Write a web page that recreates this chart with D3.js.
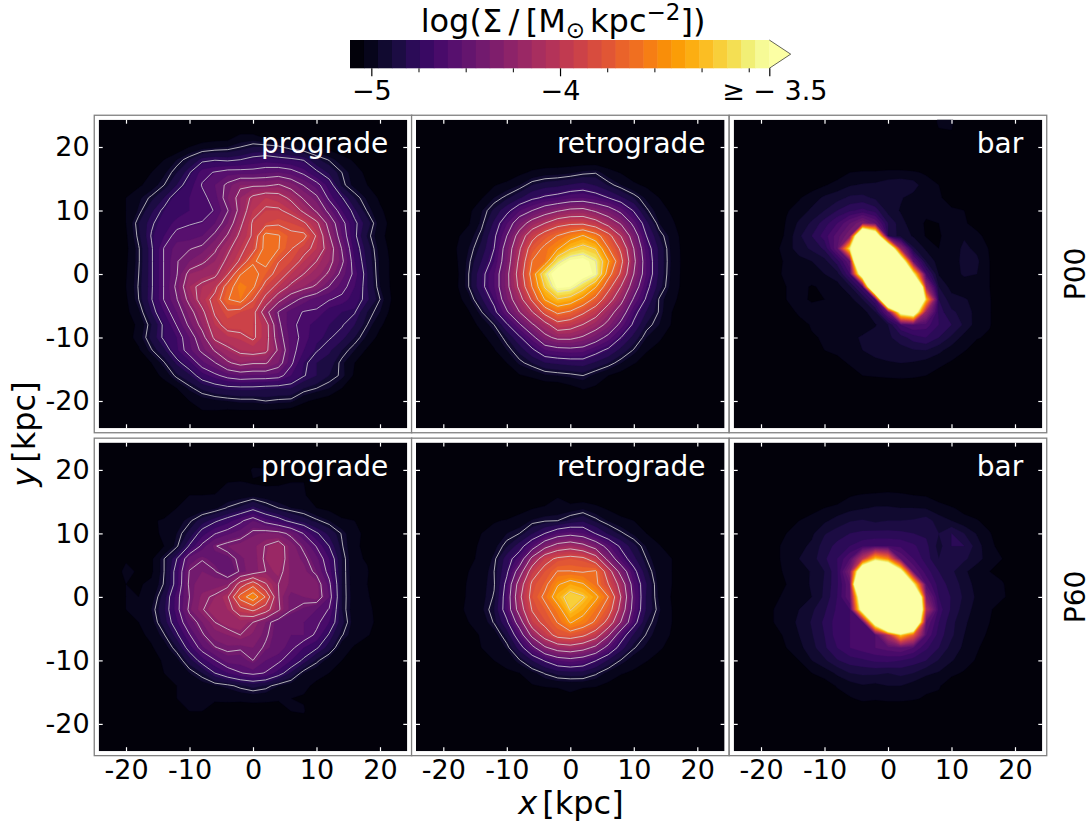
<!DOCTYPE html>
<html>
<head>
<meta charset="utf-8">
<script src="https://cdn.jsdelivr.net/npm/d3@7"></script>
<style>
  html, body { margin: 0; background: white; }
  text { font-family: "DejaVu Sans", sans-serif; }
</style>
</head>
<body>
<div class="container"></div>
<script>
// grid nodes in kpc, grids are in colorbar steps (0 = darkest, 30+ = over colour)
const gridNodes = [-24,-22,-20,-18,-16,-14,-12,-10,-8,-6,-4,-2,0,2,4,6,8,10,12,14,16,18,20,22,24];

const proP00 = [
[0,0,0,0,0,0,0,0,0,0,0,0,0,0,0,0,0,0,0,0,0,0,0,0,0],
[0,0,0,0,0,0,0,0,0,0,0,1,1,0,0,0,0,0,0,0,0,0,0,0,0],
[0,0,0,0,0,0,0,1,1.5,1.8,2,2.5,3,3,2.7,2,1.5,1,.5,0,0,0,0,0,0],
[0,0,0,0,.5,1,2,3,4.3,4.6,4.4,4.7,5.2,5.5,5.2,5,4.6,3.2,2.4,1.5,.8,0,0,0,0],
[0,0,0,.5,1,1.8,3,4.6,6.5,7,7.5,7.5,7.5,7.8,8,7.5,6.5,5,3.8,2.5,1.5,.7,0,0,0],
[0,0,.3,.8,1.5,2.5,4,5.5,7,8,9.5,11,11,11,11.5,10.5,9,7.5,5.5,2.8,1.7,1,.3,0,0],
[0,.5,1,1.8,2.7,4,5.5,6,6.5,7.5,10,12,14,15,14.5,13,11,9.5,6.5,4.8,3,1.8,.8,.2,0],
[0,.4,1,2.1,3.8,5,5.5,6,6.3,7,9,12,15,16,16,15,13,11,8.5,6,4.2,2.4,1.2,.4,0],
[0,.3,1,3,4.5,5.5,6.3,6.8,7,8,10,13,16,17,17.5,17,16,14,10.5,7.5,5,3.5,1.5,.6,0],
[0,.2,.8,2.8,4.8,6,7.5,7.5,8,9.5,11.5,14,16,21,20.3,18.5,18.5,15.5,11.5,8,5,2.9,1.3,.5,0],
[0,.2,.7,2.4,4.5,7,8.5,9,9.5,11,13,15,17,21,20.2,18,16.5,15,12.5,9,5.5,3.5,1.6,.6,0],
[0,.2,.8,2.4,4.5,7,9,10,11,12,14,16,19.8,21,18,17,15,13.5,12,9.5,6,3.7,1.8,.7,0],
[0,.3,.9,2.5,4.5,7,9,12,12.5,13,15.5,20,21,19,17,15,13.5,12.5,11,8.5,6.5,4,1.8,.7,0],
[0,.3,1,2.6,4.5,7,9.5,13,14,15,19,21.5,20.5,17,15,13,12,11,9,7.5,6,4,2,.7,0],
[0,.2,.8,2.5,4.6,7,9,12,14.5,16.5,20,21,18,15,12,10,8.5,7.5,7,6.5,5.5,4.2,2.5,.8,0],
[0,0,.7,1.8,4,6,8,10.5,13,16,17.5,17,16.5,12,9,7.5,6.8,6.7,5.5,5,4.8,3,2,.5,0],
[0,0,.5,1.2,3,5,7,9.5,12,15,16.5,16.5,16,14.5,9.5,7.2,6.5,5.5,5,4.8,4,2.5,1.2,.3,0],
[0,0,.4,1.5,3.3,5,6,8,10.5,14,14.8,15.2,16,14.5,10,7.5,6.5,5.2,4.8,4.3,3,1.8,.6,0,0],
[0,0,.2,.8,2.4,3.8,5.8,7.7,9.5,11.5,13,14,14.5,14,11,7.5,6,4.8,4.2,3,2,.8,.2,0,0],
[0,0,0,.3,1,2.4,4.2,5.7,7.7,9,11,12,11.5,11.5,10,7.2,5,4,3.5,2.2,1,.3,0,0,0],
[0,0,0,0,.5,1.3,2.8,3.8,5.5,6.5,7.5,8,7.8,7.8,7.5,6,4.8,4,3,2.3,.8,0,0,0,0],
[0,0,0,0,0,.4,1,2.2,3.2,3.8,4.2,4.3,4.3,4.1,4,4,3,2.5,2,1,.3,0,0,0,0],
[0,0,0,0,0,0,.3,1,1.5,1.8,2,2.2,2.2,2.5,2.3,2.2,1.2,.7,.3,0,0,0,0,0,0],
[0,0,0,0,0,0,0,.2,.8,.7,.5,.5,.5,.4,.3,0,0,0,0,0,0,0,0,0,0],
[0,0,0,0,0,0,0,0,0,0,0,0,0,0,0,0,0,0,0,0,0,0,0,0,0]
];

const retroP00 = [
[0,0,0,0,0,0,0,0,0,0,0,0,0,0,0,0,0,0,0,0,0,0,0,0,0],
[0,0,0,0,0,0,0,0,0,0,0,0,0,0,0,0,0,0,0,0,0,0,0,0,0],
[0,0,0,0,0,0,0,0,0,0,0,0,0,0,0,0,0,0,0,0,0,0,0,0,0],
[0,0,0,0,0,0,0,0,0,0,0,0,0,0,0,0,0,0,0,0,0,0,0,0,0],
[0,0,0,0,0,0,0,0,.7,1.2,1.5,1.6,1.8,2.2,2.4,1.4,.9,.4,0,0,0,0,0,0,0],
[0,0,0,0,0,.5,.9,1.4,2,3,3.5,3.7,4.1,4.4,3.9,2.9,2,1.2,.8,.3,0,0,0,0,0],
[0,0,0,0,.3,.9,2,2.8,3.8,5,5.7,6.1,6.7,6.9,6.3,5.4,4.2,3,1.8,1,.3,0,0,0,0],
[0,0,0,.2,.7,1.9,3.2,4.8,6.9,8.3,9.8,10.9,11.8,12,10.8,9.5,7.6,5.2,2.7,1.5,.8,.2,0,0,0],
[0,0,0,.4,.9,2.2,4.2,6.9,9.8,12.4,14.1,15.9,16.5,16.5,15.3,13,10.9,7.6,4.3,2,1.2,.3,0,0,0],
[0,0,0,.8,1.5,2.8,5,8.3,12.4,16,18.5,20,21.5,23,21,18,14,9.8,5.4,3,1.6,.5,0,0,0],
[0,0,0,.95,2,3.3,5.4,9.5,13.8,18.5,20.5,22.5,25.5,26.8,25.5,20,16.5,11.2,6.4,3.7,1.7,.6,0,0,0],
[0,0,0,.8,2.3,4,6,9.8,14.7,20,21,27.8,30.5,31,28.8,23,17.7,11.8,6.9,3.7,1.8,.6,0,0,0],
[0,0,0,.6,2.5,4.8,6.9,10.5,15.3,21,28,32,32,31.5,29.5,21,16.5,11.2,6.9,3.7,1.7,.6,0,0,0],
[0,0,0,.7,2.5,4.9,6.9,10.5,14.7,20,26,30.5,30,27,23,18,14,9.8,6,3.4,1.6,.6,0,0,0],
[0,0,0,.5,1.6,3.8,6,9.8,13,17.5,23,25.5,24.5,22,19,15.3,12,8,5.1,2.4,1.3,.5,0,0,0],
[0,0,0,0,.9,2.4,4.8,8,11.2,14,18,20.5,19.5,17.5,15.3,12.4,9.8,6.1,3.9,2.4,1,.3,0,0,0],
[0,0,0,0,.5,1.3,2.5,5.1,8,10.9,13,15.9,15.3,14,12.4,10.5,7.6,5,2.9,2,.9,.2,0,0,0],
[0,0,0,0,0,.7,1.5,3,5.1,7.6,10.5,11.8,11.8,10.9,9.5,7.6,5.4,3.6,2,1.2,.4,0,0,0,0],
[0,0,0,0,0,0,.9,2,3.3,5,6.9,7.4,7.6,7.4,6.1,5,3.6,2.4,1.1,.6,0,0,0,0,0],
[0,0,0,0,0,0,.3,1,2.2,3,3.9,4.2,4.4,4.5,3.8,3,2,1.1,.5,0,0,0,0,0,0],
[0,0,0,0,0,0,0,.4,.9,1.2,1.8,2,2.2,2.5,1.7,1,.5,0,0,0,0,0,0,0,0],
[0,0,0,0,0,0,0,0,0,0,0,0,.6,1.1,.8,0,0,0,0,0,0,0,0,0,0],
[0,0,0,0,0,0,0,0,0,0,0,0,0,0,0,0,0,0,0,0,0,0,0,0,0],
[0,0,0,0,0,0,0,0,0,0,0,0,0,0,0,0,0,0,0,0,0,0,0,0,0],
[0,0,0,0,0,0,0,0,0,0,0,0,0,0,0,0,0,0,0,0,0,0,0,0,0]
];

const barP00 = [
[0,0,0,0,0,0,0,0,0,0,0,0,0,0,0,0,1.2,1.2,0,0,0,0,0,0,0],
[0,0,0,0,0,0,0,0,0,0,0,0,0,0,0,0,.8,.9,0,0,0,0,0,0,0],
[0,0,0,0,0,0,0,0,0,0,0,0,0,0,0,0,0,0,0,0,0,0,0,0,0],
[0,0,0,0,0,0,0,0,0,0,0,0,0,0,0,0,0,0,0,0,0,0,0,0,0],
[0,0,0,0,0,0,0,0,.4,1,1.1,1.1,1.2,1.2,1.1,.9,0,0,0,0,0,0,0,0,0],
[0,0,0,0,0,.2,.5,.9,1.4,1.9,2.1,2.2,2.6,2.8,2.5,1.3,1,.5,0,0,0,0,0,0,0],
[0,0,0,0,.4,.9,1.5,2.2,2.6,3.2,3.3,2.8,2.4,2.1,1.6,1.2,1.1,.7,.2,0,0,0,0,0,0],
[0,0,0,0,.9,1.4,2.2,3,4,4.8,5.3,4.5,2.6,1.9,1.5,1.2,1.1,1.1,1,.3,0,0,0,0,0],
[0,0,0,0,1.1,2.2,3.2,4.5,6,8,10,8,4,2.4,1.4,.9,1,1.2,1.1,.7,.1,0,0,0,0],
[0,0,0,.3,1.2,2.8,4,5.5,7.5,10,54,41,4,2.5,1.9,.9,.9,1.4,1.9,1.2,.7,0,0,0,0],
[0,0,0,.6,1.5,2.5,3.2,4.2,8,28.7,45,50,45,12,3.2,1.8,1,1.5,2.2,1.8,.9,0,0,0,0],
[0,0,0,.5,1.2,1.6,2,2.6,4.5,8,72,60,60,39.5,8,3,1.5,1.5,2.3,2.2,1,0,0,0,0],
[0,0,0,.7,1.2,1.6,1.6,2,2.6,6,38.4,70,70,60,30,6,1.9,1.4,2.2,2,1,0,0,0,0],
[0,0,0,0,1,1.3,.9,1.2,1.6,2.8,6,59,70,70,70,12,3,1.6,1.3,1.5,1,0,0,0,0],
[0,0,0,0,1,1.2,.9,1,1.2,1.6,3,6,63,70,60,26,4,2.4,2.1,1.7,1.1,0,0,0,0],
[0,0,0,0,.5,1.2,1.3,1,1,1.1,1.5,3,8,33,38,12,4.5,3.2,2.6,1.6,1.1,0,0,0,0],
[0,0,0,0,0,.6,1.1,1.1,1,1,1.2,1.9,3,6,7,6.5,5,4,2.8,1.5,1.1,0,0,0,0],
[0,0,0,0,0,0,.9,1.1,1.1,1.6,2.2,2.5,2.8,3.5,4.5,5,4,2.8,1.6,1.1,.8,0,0,0,0],
[0,0,0,0,0,0,.7,1,1.2,1.8,2,2.4,2.6,2.6,2.9,3,2.3,1.5,1.1,.4,0,0,0,0,0],
[0,0,0,0,0,0,0,0,.7,1.1,1.4,1.7,1.9,2,1.9,1.6,1.2,.9,.2,0,0,0,0,0,0],
[0,0,0,0,0,0,0,0,0,.6,1,1.1,1.2,1.2,1.2,1,.7,0,0,0,0,0,0,0,0],
[0,0,0,0,0,0,0,0,0,0,0,0,0,.3,0,0,0,0,0,0,0,0,0,0,0],
[0,0,0,0,0,0,0,0,0,0,0,0,0,0,0,0,0,0,0,0,0,0,0,0,0],
[0,0,0,0,0,0,0,0,0,0,0,0,0,0,0,0,0,0,0,0,0,0,0,0,0],
[0,0,0,0,0,0,0,0,0,0,0,0,0,0,0,0,0,0,0,0,0,0,0,0,0]
];

const proP60 = [
[0,0,0,0,0,0,0,0,0,0,0,0,0,0,0,0,0,0,0,0,0,0,0,0,0],
[0,0,0,0,0,0,0,0,0,0,0,0,0,0,0,0,0,0,0,0,0,0,0,0,0],
[0,0,0,0,0,0,0,0,0,0,0,0,1.2,1.1,0,0,0,0,0,0,0,0,0,0,0],
[0,0,0,0,0,0,0,0,0,0,1,1.1,.9,.8,.9,1,1,0,0,0,0,0,0,0,0],
[0,0,0,0,0,0,.6,1,1,1.1,1.3,1.5,1.7,1.5,1.3,1.2,1.1,.5,0,0,0,0,0,0,0],
[0,0,0,0,.2,.5,1,1.2,1.4,1.8,2.6,3.2,4.3,3.2,2.5,2,1.7,1,.7,.3,0,0,0,0,0],
[0,0,0,.2,.9,1.1,1.6,2.3,3.5,4.5,5.5,6.8,8,6.5,5.5,4.3,3.5,2.7,2,1.2,1,.2,0,0,0],
[0,0,0,.2,.7,1.2,2,3.3,5.5,7,7.8,8.5,9.8,10.2,10,9,7,5,3.7,2.4,1.2,.8,0,0,0],
[0,0,0,.1,.5,1,2.3,5,7.5,9.3,10,10.5,10.7,11.8,12.8,10.5,9,7,4.8,2.6,1.2,.7,0,0,0],
[0,.2,.9,1,.8,2.5,4.8,8.5,9.3,8.5,8.7,9.8,10.5,12,13,10.5,9.8,8.3,6,3,1.2,.9,0,0,0],
[0,.6,1.2,.9,.8,2.5,5.5,9.5,10,9.5,8,9.6,10.5,11.7,12.2,10.8,10.3,9,6.5,3,1.3,1.1,0,0,0],
[0,.2,1,.9,1.2,2.6,5.5,9.8,10.3,10.5,11,15,17.7,14.2,11.7,10.8,10.8,10.4,7.5,3,1.4,1,.3,0,0],
[0,.2,1,1,1.5,3.5,6.5,9.4,11.3,12,13.7,19.5,22.5,18.4,11.8,9.5,10,10.5,8,3,1.5,1.1,.5,0,0],
[0,.1,1,1,2,3.8,6.5,9.8,11.6,12.5,13,15.5,16.8,15,12,9.5,8.8,8,7,3,1.4,1.2,.7,0,0],
[0,0,.8,1,1.6,3.5,5.8,8.5,10,11.7,12.5,12.5,11.7,10,8.5,8,8,7.5,6,3.3,1.5,1.2,.8,0,0],
[0,0,.4,.8,1.2,2.4,4.5,7,9.2,10.5,11,11.7,10.8,9.6,8.5,8,8,6.8,4.6,2.6,1.4,1.1,.5,0,0],
[0,0,0,.3,.9,1.5,3,5.5,7.8,9.3,9.8,9.6,10,9.2,8.5,7.5,6,5,3.5,1.4,.9,.2,0,0,0],
[0,0,0,0,.7,1.1,1.7,3.5,5.5,7,8.5,8.5,9.4,8,7.5,6,4.5,2.8,1.5,1,.3,0,0,0,0],
[0,0,0,0,0,1,1.2,2,3,4.8,6,7,7.5,7,5.5,3.8,2,1.3,1,.2,0,0,0,0,0],
[0,0,0,0,0,.9,1,1,1.5,1.9,2.2,2.8,3.3,2.9,2,1.5,1.2,.8,0,0,0,0,0,0,0],
[0,0,0,0,0,.8,1,1,1.1,1.1,1.2,1.2,1.3,1.2,1.1,1,.9,0,0,0,0,0,0,0,0],
[0,0,0,0,0,.4,.9,1,1,.7,.5,.4,.4,.5,.6,1,1.1,0,0,0,0,0,0,0,0],
[0,0,0,0,0,0,0,0,0,0,0,0,0,0,0,.9,.5,0,0,0,0,0,0,0,0],
[0,0,0,0,0,0,0,0,0,0,0,0,0,0,0,0,0,0,0,0,0,0,0,0,0],
[0,0,0,0,0,0,0,0,0,0,0,0,0,0,0,0,0,0,0,0,0,0,0,0,0]
];

const retroP60 = [
[0,0,0,0,0,0,0,0,0,0,0,0,0,0,0,0,0,0,0,0,0,0,0,0,0],
[0,0,0,0,0,0,0,0,0,0,0,0,0,0,0,0,0,0,0,0,0,0,0,0,0],
[0,0,0,0,0,0,0,0,0,0,0,0,0,0,0,0,0,0,0,0,0,0,0,0,0],
[0,0,0,0,0,0,0,0,0,0,0,0,0,0,0,0,0,0,0,0,0,0,0,0,0],
[0,0,0,0,0,0,0,0,0,0,0,.9,0,0,0,0,0,0,0,0,0,0,0,0,0],
[0,0,0,0,0,0,0,0,.6,.9,1.2,1.4,1.5,1.8,1.3,.8,.4,0,0,0,0,0,0,0,0],
[0,0,0,0,0,.1,.9,1.1,1.4,2.1,2.4,2.5,3.2,3.7,2.8,1.9,1.3,1,.7,0,0,0,0,0,0],
[0,0,0,0,.6,1,1.4,2,2.5,3.9,5.4,6.9,7.5,7,5.3,3.8,2.7,1.8,1,.4,0,0,0,0,0],
[0,0,0,0,.8,1.1,1.7,2.9,4.6,7,10.3,12.3,13,12,10,7.3,5,3.3,1.9,1.1,.3,0,0,0,0],
[0,0,0,0,.9,1.1,2.2,4.6,6.5,12,16,17.5,18,17.6,15.5,10.2,6.5,4.3,2.5,1.2,1,0,0,0,0],
[0,0,0,.3,1,1.4,2.5,5,9.7,15.7,18,20,20,19.7,20.2,15.5,10,6,3.2,1.5,1,.2,0,0,0],
[0,0,0,.6,1.1,1.7,2.4,6,12.6,17.5,19.2,22.5,24,23,20.5,17,13,7,4,1.6,1,0,0,0,0],
[0,0,0,.7,1.1,1.7,2.6,6.5,13.5,18,20.5,24.5,27,26,23.5,19.9,14,7.5,3.8,1.8,.9,0,0,0,0],
[0,0,0,.7,1.2,1.8,3,6.5,12.6,17.2,19,21.5,25.9,24,21,18.5,13,7.2,3.8,2.1,1,0,0,0,0],
[0,0,0,.5,1,1.4,2.6,5,9.7,15.8,17.8,20,23,21.5,19.5,16,11,6.2,3,1.8,1,0,0,0,0],
[0,0,0,0,.6,1.1,1.5,3.3,6.8,12,15.5,18,18.5,17.5,15.5,11.5,6.5,3.8,2.4,1.5,.9,0,0,0,0],
[0,0,0,0,.1,1,1.2,2.1,4.5,7.5,10.8,12.5,13,12.2,10.5,7.3,4.5,2.6,1.8,1.3,.3,0,0,0,0],
[0,0,0,0,0,.4,1,1.2,2.4,4,5.6,7,7.5,6.9,5.5,3.8,2.4,1.5,1.1,.3,0,0,0,0,0],
[0,0,0,0,0,0,0,.9,1,1.7,2.6,3.3,3.5,3.5,2.7,1.7,1.1,.8,0,0,0,0,0,0,0],
[0,0,0,0,0,0,0,0,.4,.9,1.1,1.2,1.3,1.2,1.1,.7,.2,0,0,0,0,0,0,0,0],
[0,0,0,0,0,0,0,0,0,0,0,0,.7,0,0,0,0,0,0,0,0,0,0,0,0],
[0,0,0,0,0,0,0,0,0,0,0,0,0,0,0,0,0,0,0,0,0,0,0,0,0],
[0,0,0,0,0,0,0,0,0,0,0,0,0,0,0,0,0,0,0,0,0,0,0,0,0],
[0,0,0,0,0,0,0,0,0,0,0,0,0,0,0,0,0,0,0,0,0,0,0,0,0],
[0,0,0,0,0,0,0,0,0,0,0,0,0,0,0,0,0,0,0,0,0,0,0,0,0]
];

const barP60 = [
[0,0,0,0,0,0,0,0,0,0,0,0,0,0,0,0,0,0,0,0,0,0,0,0,0],
[0,0,0,0,0,0,0,0,0,0,0,0,0,0,0,0,0,0,0,0,0,0,0,0,0],
[0,0,0,0,0,0,0,0,0,0,0,0,0,0,0,0,0,0,0,0,0,0,0,0,0],
[0,0,0,0,0,0,0,0,0,0,0,0,0,0,0,0,0,0,0,0,0,0,0,0,0],
[0,0,0,0,0,0,0,0,.2,.9,1.1,1.2,1.3,1.2,1,.9,.5,0,0,0,0,0,0,0,0],
[0,0,0,0,0,.4,.8,1,1.3,1.7,1.9,2.1,2.1,2,2,1.9,1.4,1.1,.7,.2,0,0,0,0,0],
[0,0,0,0,.2,1,1.2,1.8,2.4,2.9,3.1,2.8,3,3,3.1,3.5,2.5,2,1.3,1.1,.5,0,0,0,0],
[0,0,0,.2,1,1.2,1.8,2.9,3.5,4,4.2,4.3,4.3,4.2,4,3.8,3,4,3,1.9,1.1,.2,0,0,0],
[0,0,0,.8,1.2,1.7,2.2,3.5,4.3,5,5.7,6,6,5.8,5.2,4.3,2.6,4,4,2.5,1.2,.7,0,0,0],
[0,0,0,.8,1.2,2,2.5,3.8,5,7,15,26,22,8,6,4.5,3,3.8,3.2,2.4,1.5,1,0,0,0],
[0,0,0,.8,1.1,1.5,2.1,3,4.8,10,43,53,47,33,8,5.5,4,3.2,2.2,1.4,1,.7,0,0,0],
[0,0,0,.8,1,1.6,2.1,3.1,4.8,8,72,80,80,60,30,7,4.5,3.6,2.6,1.6,1.2,1.1,.4,0,0],
[0,0,0,.9,1.1,1.7,2,3.2,5,8,41,80,80,80,60,10,5,3.9,2.8,1.8,1.2,1.1,.7,0,0],
[0,0,.1,1,1.3,2,2.8,3.8,5.2,6,35,80,80,80,64,14,5.5,3.8,2.5,1.6,1.1,.6,0,0,0],
[0,0,.3,1,1.5,2.2,3.1,4.2,5.5,6,6.5,36,70,70,52,8,5,3.3,2.2,1.4,1,0,0,0,0],
[0,0,0,.6,1.2,2,2.9,4,5.5,6,6.5,7,14,26,19,7,4.5,3.2,2,1.2,.9,0,0,0,0],
[0,0,0,0,1,1.7,2.6,3.8,5,6,6.5,7,7.5,8,7,5.2,4,2.6,1.8,1.1,.6,0,0,0,0],
[0,0,0,0,0,1,2,2.8,3.9,4.5,4.8,5.2,5.3,5,4.5,4,2.9,2.1,1.4,.9,.1,0,0,0,0],
[0,0,0,0,0,0,1,1.4,2.2,3,3.2,3.2,3,3.3,3,2.2,1.9,1.2,.9,0,0,0,0,0,0],
[0,0,0,0,0,0,0,.5,1.1,1.5,1.9,1.7,2,2,1.5,1.2,1.1,.5,0,0,0,0,0,0,0],
[0,0,0,0,0,0,0,0,.5,.9,1.2,1.1,1.2,1.2,1.1,.9,.8,0,0,0,0,0,0,0,0],
[0,0,0,0,0,0,0,0,0,0,.3,.3,.3,.3,.2,0,0,0,0,0,0,0,0,0,0],
[0,0,0,0,0,0,0,0,0,0,0,0,0,0,0,0,0,0,0,0,0,0,0,0,0],
[0,0,0,0,0,0,0,0,0,0,0,0,0,0,0,0,0,0,0,0,0,0,0,0,0],
[0,0,0,0,0,0,0,0,0,0,0,0,0,0,0,0,0,0,0,0,0,0,0,0,0]
];

// white contour levels, each panel has its own
const linesProP00 = [2.5,4.7,6.9,9.1,11.3,13.5,15.7,17.9,20.1];
const linesRetroP00 = [2.5,5.4,8.3,11.2,14.1,17,19.9,22.8,25.7,28.6];
const linesProP60 = [2.5,4.8,7.1,9.4,11.7,14,16.3,18.6,20.9];
const linesRetroP60 = [2.5,5.4,8.3,11.2,14.1,17,19.9,22.8,25.7];

const panelNames = ["prograde", "retrograde", "bar"];
const rowNames = ["P00", "P60"];
const axisTicks = [-20,-10,0,10,20];
const cbarMajor = [-5,-4,-2.891];
const cbarMajorLabels = ["\u22125", "\u22124", "\u2265 \u2212 3.5"];
const cbarMinor = [-4.75,-4.5,-4.25,-3.75,-3.5,-3.25,-3];
const nBands = 30;

const w = 1091;
const h = 825;
const fontSize = 27;
const labelSize = 28;
const halfImage = 154.3;
const centersX = [253, 570.3, 888];
const centersY = [274, 596.9];
const kpcLim = 24.3;
const frameLim = 25;

const svg = d3.select(".container")
    .append("svg")
    .attr("width", w)
    .attr("height", h)
    .style("display", "block");

const bandColor = (i) => i >= nBands ? "#fcffa4" : d3.interpolateInferno((i + 0.5) / nBands);
const bandEdges = d3.range(1, nBands + 1);

const drawPanel = (row, col, grid, lines) => {
    const cx = centersX[col];
    const cy = centersY[row];
    const xScale = d3.scaleLinear().domain([-kpcLim, kpcLim]).range([cx - halfImage, cx + halfImage]);
    const yScale = d3.scaleLinear().domain([-kpcLim, kpcLim]).range([cy + halfImage, cy - halfImage]);
    const id = "clip" + row + col;

    svg.append("clipPath").attr("id", id)
        .append("rect")
        .attr("x", xScale(-kpcLim)).attr("y", yScale(kpcLim))
        .attr("width", xScale(kpcLim) - xScale(-kpcLim))
        .attr("height", yScale(-kpcLim) - yScale(kpcLim));

    svg.append("rect")
        .attr("x", xScale(-frameLim)).attr("y", yScale(frameLim))
        .attr("width", xScale(frameLim) - xScale(-frameLim))
        .attr("height", yScale(-frameLim) - yScale(frameLim))
        .attr("fill", "white").attr("stroke", "#808080").attr("stroke-width", 1.3);

    const g = svg.append("g").attr("clip-path", "url(#" + id + ")");
    g.append("rect")
        .attr("x", xScale(-kpcLim)).attr("y", yScale(kpcLim))
        .attr("width", xScale(kpcLim) - xScale(-kpcLim))
        .attr("height", yScale(-kpcLim) - yScale(kpcLim))
        .attr("fill", bandColor(0));

    // contour coordinates are grid cells, node i sits at i + 0.5
    const step = gridNodes[1] - gridNodes[0];
    const toPx = d3.geoTransform({
        point: function(x, y) {
            this.stream.point(xScale(gridNodes[0] + (x - 0.5) * step), yScale(-gridNodes[0] - (y - 0.5) * step));
        }
    });
    const path = d3.geoPath(toPx);
    const flat = grid.flat();
    const contours = d3.contours().size([gridNodes.length, grid.length]);

    g.selectAll("path.band")
        .data(contours.thresholds(bandEdges)(flat))
        .enter()
        .append("path")
        .attr("class", "band")
        .attr("d", path)
        .attr("fill", (d, i) => bandColor(i + 1))
        .attr("stroke", (d, i) => bandColor(i + 1))
        .attr("stroke-width", 0.3);

    g.selectAll("path.level")
        .data(contours.thresholds(lines)(flat))
        .enter()
        .append("path")
        .attr("class", "level")
        .attr("d", path)
        .attr("fill", "none")
        .attr("stroke", "#d8d8d8")
        .attr("stroke-width", 0.8);

    const styleAxis = (sel, showLabels) => {
        sel.select(".domain").remove();
        sel.selectAll(".tick line").attr("stroke", "white").attr("stroke-width", 1.2);
        sel.selectAll(".tick text")
            .attr("fill", "black")
            .style("font-size", fontSize + "px")
            .style("font-family", "'DejaVu Sans', sans-serif")
            .style("display", showLabels ? null : "none");
    };

    const bottom = d3.axisBottom(xScale).tickValues(axisTicks).tickSize(-4).tickPadding(9).tickFormat((d) => String(d));
    const top = d3.axisTop(xScale).tickValues(axisTicks).tickSize(-4).tickFormat("");
    const left = d3.axisLeft(yScale).tickValues(axisTicks).tickSize(-4).tickPadding(9).tickFormat((d) => String(d));
    const right = d3.axisRight(yScale).tickValues(axisTicks).tickSize(-4).tickFormat("");

    svg.append("g").attr("transform", "translate(0," + yScale(-kpcLim) + ")").call(bottom)
        .call(styleAxis, row === 1);
    svg.append("g").attr("transform", "translate(0," + yScale(kpcLim) + ")").call(top)
        .call(styleAxis, false);
    svg.append("g").attr("transform", "translate(" + xScale(-kpcLim) + ",0)").call(left)
        .call(styleAxis, col === 0);
    svg.append("g").attr("transform", "translate(" + xScale(kpcLim) + ",0)").call(right)
        .call(styleAxis, false);

    svg.append("text")
        .attr("x", xScale(21.3))
        .attr("y", yScale(19))
        .attr("text-anchor", "end")
        .attr("fill", "white")
        .style("font-size", labelSize + "px")
        .text(panelNames[col]);
};

drawPanel(0, 0, proP00, linesProP00);
drawPanel(0, 1, retroP00, linesRetroP00);
drawPanel(0, 2, barP00, []);
drawPanel(1, 0, proP60, linesProP60);
drawPanel(1, 1, retroP60, linesRetroP60);
drawPanel(1, 2, barP60, []);

// colorbar
const cbarScale = d3.scaleLinear().domain([-5.113, -2.891]).range([350, 769.3]);
const cbarBand = d3.scaleLinear().domain([0, nBands]).range([350, 769.3]);
const cbarTop = 40;
const cbarBottom = 68.3;
const arrow = [[769.3, cbarTop], [790.7, (cbarTop + cbarBottom) / 2], [769.3, cbarBottom]];

svg.selectAll("rect.cbar")
    .data(d3.range(nBands))
    .enter()
    .append("rect")
    .attr("class", "cbar")
    .attr("x", (d) => cbarBand(d))
    .attr("y", cbarTop)
    .attr("width", (d) => cbarBand(d + 1) - cbarBand(d) + 0.4)
    .attr("height", cbarBottom - cbarTop)
    .attr("fill", (d) => bandColor(d));

svg.append("path")
    .attr("d", d3.line()(arrow) + "Z")
    .attr("fill", bandColor(nBands));
svg.append("path")
    .attr("d", d3.line()(arrow))
    .attr("fill", "none")
    .attr("stroke", "#222")
    .attr("stroke-width", 0.7);

const cbarAxis = d3.axisBottom(cbarScale).tickValues(cbarMajor).tickSize(8).tickPadding(5)
    .tickFormat((d, i) => cbarMajorLabels[i]);
const cbarG = svg.append("g").attr("transform", "translate(0," + cbarBottom + ")").call(cbarAxis);
cbarG.select(".domain").remove();
cbarG.selectAll(".tick line").attr("stroke", "black").attr("stroke-width", 1.2);
cbarG.selectAll(".tick text")
    .attr("fill", "black")
    .style("font-size", fontSize + "px")
    .style("font-family", "'DejaVu Sans', sans-serif");
cbarG.selectAll(".tick:last-of-type text").attr("dx", 5);

const cbarMinorAxis = d3.axisBottom(cbarScale).tickValues(cbarMinor).tickSize(4).tickFormat("");
const cbarMinorG = svg.append("g").attr("transform", "translate(0," + cbarBottom + ")").call(cbarMinorAxis);
cbarMinorG.select(".domain").remove();
cbarMinorG.selectAll(".tick line").attr("stroke", "black").attr("stroke-width", 1);

// title
const title = svg.append("text")
    .attr("x", 563)
    .attr("y", 32)
    .attr("text-anchor", "middle")
    .style("font-size", "32px");
title.append("tspan").text("log(\u03a3\u2009/\u2009[M");
title.append("tspan").attr("dy", 6).style("font-size", "23px").text("\u2299");
title.append("tspan").attr("dy", -6).attr("dx", 5).text("kpc");
title.append("tspan").attr("dy", -12).style("font-size", "23px").text("\u22122");
title.append("tspan").attr("dy", 12).text("])");

// axis labels
const xLabel = svg.append("text")
    .attr("x", 571)
    .attr("y", 814)
    .attr("text-anchor", "middle")
    .style("font-size", "32px");
xLabel.append("tspan").style("font-style", "italic").text("x");
xLabel.append("tspan").attr("dx", 5).text("[kpc]");

const yLabel = svg.append("text")
    .attr("transform", "translate(35,434) rotate(-90)")
    .attr("text-anchor", "middle")
    .style("font-size", "32px");
yLabel.append("tspan").style("font-style", "italic").text("y");
yLabel.append("tspan").attr("dx", 5).text("[kpc]");

rowNames.forEach((name, i) => {
    svg.append("text")
        .attr("transform", "translate(1085," + centersY[i] + ") rotate(-90)")
        .attr("text-anchor", "middle")
        .style("font-size", labelSize + "px")
        .text(name);
});
</script>
</body>
</html>
